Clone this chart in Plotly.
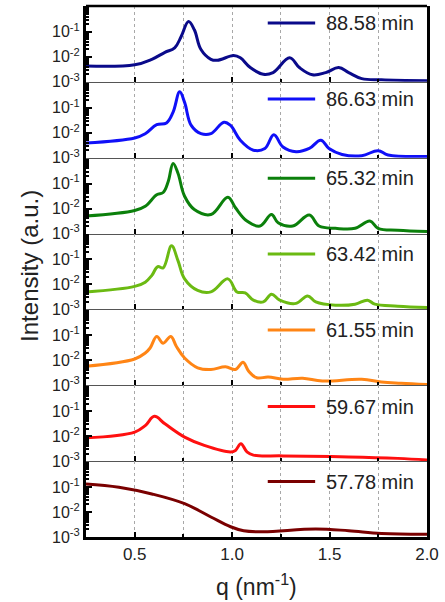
import plotly.graph_objects as go
from plotly.subplots import make_subplots

# SAXS profiles, top panel first: scattering vector q (nm^-1) and intensity (a.u.)
labels = ["88.58 min", "86.63 min", "65.32 min", "63.42 min",
          "61.55 min", "59.67 min", "57.78 min"]
colors = ["#0A0A8A", "#1010F8", "#0B800B", "#6BBA12",
          "#FF8515", "#FF1010", "#7A0000"]

q_8858 = [0.25, 0.50, 0.588, 0.655, 0.705, 0.739, 0.776, 0.806, 0.840, 0.891, 0.924,
          1.008, 1.042, 1.093, 1.160, 1.210, 1.295, 1.345, 1.412, 1.480, 1.547,
          1.598, 1.665, 1.766, 2.0]
i_8858 = [0.00427, 0.00479, 0.00794, 0.0151, 0.0229, 0.0661, 0.257, 0.120, 0.0195,
          0.00794, 0.00724, 0.0112, 0.00912, 0.00372, 0.00200, 0.00234, 0.00912,
          0.00372, 0.00191, 0.00234, 0.00372, 0.00234, 0.00135, 0.00120, 0.00110]

q_8663 = [0.25, 0.50, 0.554, 0.613, 0.663, 0.697, 0.731, 0.756, 0.790, 0.840, 0.891,
          0.958, 0.992, 1.042, 1.109, 1.168, 1.214, 1.261, 1.328, 1.396, 1.455,
          1.497, 1.564, 1.665, 1.749, 1.800, 2.0]
i_8663 = [0.00389, 0.00617, 0.00912, 0.0209, 0.0245, 0.0661, 0.427, 0.162, 0.0195,
          0.00912, 0.00912, 0.0263, 0.0195, 0.00501, 0.00200, 0.00234, 0.00832,
          0.00269, 0.00174, 0.00234, 0.00501, 0.00234, 0.00135, 0.00120, 0.00191,
          0.00129, 0.00112]

q_6532 = [0.25, 0.50, 0.554, 0.613, 0.646, 0.672, 0.697, 0.722, 0.756, 0.806, 0.891,
          0.978, 1.017, 1.076, 1.143, 1.202, 1.236, 1.311, 1.396, 1.446, 1.530,
          1.631, 1.707, 1.749, 1.850, 2.0]
i_6532 = [0.00501, 0.00832, 0.0123, 0.0355, 0.0437, 0.120, 0.631, 0.257, 0.0309,
          0.00912, 0.00575, 0.0282, 0.0107, 0.00316, 0.00200, 0.00575, 0.00269,
          0.00200, 0.00550, 0.00200, 0.00162, 0.00162, 0.00316, 0.00162, 0.00135,
          0.00120]

q_6342 = [0.25, 0.50, 0.554, 0.588, 0.618, 0.646, 0.689, 0.722, 0.756, 0.823, 0.891,
          0.978, 1.025, 1.067, 1.109, 1.160, 1.202, 1.244, 1.328, 1.387, 1.429,
          1.530, 1.631, 1.695, 1.732, 1.850, 2.0]
i_6342 = [0.00501, 0.00832, 0.0123, 0.0229, 0.0513, 0.0457, 0.347, 0.0891, 0.0166,
          0.00575, 0.00501, 0.0166, 0.00501, 0.00457, 0.00234, 0.00200, 0.00407,
          0.00234, 0.00174, 0.00347, 0.00200, 0.00148, 0.00162, 0.00234, 0.00162,
          0.00135, 0.00120]

q_6155 = [0.25, 0.50, 0.554, 0.579, 0.613, 0.646, 0.685, 0.714, 0.756, 0.823, 0.891,
          0.966, 1.017, 1.056, 1.084, 1.126, 1.185, 1.261, 1.362, 1.463, 1.665,
          1.766, 1.867, 2.0]
i_6155 = [0.00575, 0.0112, 0.0195, 0.0309, 0.0891, 0.0479, 0.0891, 0.0355, 0.0123,
          0.00501, 0.00427, 0.00550, 0.00427, 0.00832, 0.00372, 0.00200, 0.00214,
          0.00174, 0.00191, 0.00148, 0.00174, 0.00135, 0.00120, 0.00107]

q_5967 = [0.25, 0.50, 0.554, 0.601, 0.655, 0.756, 0.857, 0.992, 1.017, 1.045, 1.076,
          1.109, 1.261, 1.598, 1.850, 2.0]
i_5967 = [0.00851, 0.0145, 0.0263, 0.0617, 0.0309, 0.00912, 0.00427, 0.00234,
          0.00269, 0.00501, 0.00234, 0.00174, 0.00162, 0.00148, 0.00129, 0.00112]

q_5778 = [0.25, 0.419, 0.588, 0.756, 0.891, 0.992, 1.059, 1.160, 1.429, 1.598, 1.766, 2.0]
i_5778 = [0.132, 0.0977, 0.0525, 0.0214, 0.00631, 0.00257, 0.00178, 0.00162,
          0.00209, 0.00178, 0.00138, 0.00129]

q_sets = [q_8858, q_8663, q_6532, q_6342, q_6155, q_5967, q_5778]
i_sets = [i_8858, i_8663, i_6532, i_6342, i_6155, i_5967, i_5778]

y_ticks = [1e-3, 1e-2, 1e-1]
y_ticktext = ["10<sup>-3</sup>", "10<sup>-2</sup>", "10<sup>-1</sup>"]
y_minor = [m * 10.0 ** e for e in (-3, -2, -1) for m in range(2, 10)]

FONT = "Liberation Sans, Arial, sans-serif"
n = len(labels)

fig = make_subplots(rows=n, cols=1, shared_xaxes=True, vertical_spacing=0)

for k in range(n):
    fig.add_trace(
        go.Scatter(x=q_sets[k], y=i_sets[k], mode="lines", name=labels[k],
                   line=dict(color=colors[k], width=3, shape="spline", smoothing=1.1),
                   showlegend=False),
        row=k + 1, col=1)

grid_col = "#a8a8a8"
for k in range(n):
    last = k == n - 1
    fig.update_xaxes(
        range=[0.25, 2.0], tick0=0, dtick=0.5, tickformat=".1f",
        showgrid=True, gridcolor=grid_col, griddash="dot", gridwidth=1,
        ticks="inside", ticklen=5, tickwidth=1.5, tickcolor="black",
        minor=dict(dtick=0.25, tick0=0, showgrid=True, gridcolor=grid_col,
                   griddash="dot", gridwidth=1, ticks="inside", ticklen=3,
                   tickcolor="black"),
        showline=True, linecolor="black" if last else "#555555",
        linewidth=3 if last else 1, zeroline=False,
        showticklabels=last,
        tickfont=dict(family=FONT, size=17, color="#222222"),
        row=k + 1, col=1)
    fig.update_yaxes(
        type="log", range=[-3, 0.03],
        tickmode="array", tickvals=y_ticks, ticktext=y_ticktext,
        ticks="inside", ticklen=6, tickwidth=1.5, tickcolor="black",
        minor=dict(tickmode="array", tickvals=y_minor, ticks="inside",
                   ticklen=3, tickcolor="black", showgrid=False),
        showgrid=False, zeroline=False,
        showline=True, linecolor="black", linewidth=3, mirror=True,
        tickfont=dict(family=FONT, size=16, color="#222222"),
        row=k + 1, col=1)

# legend entry (line sample + label) in the upper right of every panel
legend_drop = [0.225, 0.225, 0.27, 0.27, 0.27, 0.28, 0.27]
for k in range(n):
    sfx = "" if k == 0 else str(k + 1)
    yd = 1 - legend_drop[k]
    fig.add_shape(type="line", xref=f"x{sfx} domain", yref=f"y{sfx} domain",
                  x0=0.533, x1=0.672, y0=yd, y1=yd,
                  line=dict(color=colors[k], width=3))
    fig.add_annotation(text=labels[k], xref=f"x{sfx} domain", yref=f"y{sfx} domain",
                       x=0.697, y=yd, xanchor="left", yanchor="middle",
                       showarrow=False,
                       font=dict(family=FONT, size=20, color="#222222"))

# top edge of the frame
fig.add_shape(type="line", xref="paper", yref="paper", x0=0, x1=1, y0=1, y1=1,
              line=dict(color="black", width=2.5))

fig.add_annotation(text="Intensity (a.u.)", xref="paper", yref="paper",
                   x=-0.168, y=0.51, textangle=-90, showarrow=False,
                   xanchor="center", yanchor="middle",
                   font=dict(family=FONT, size=24, color="#222222"))
fig.add_annotation(text="q (nm<sup>-1</sup>)", xref="paper", yref="paper",
                   x=0.5, y=-0.09, showarrow=False,
                   xanchor="center", yanchor="middle",
                   font=dict(family=FONT, size=23, color="#222222"))

fig.update_layout(
    width=445, height=602,
    margin=dict(l=86, r=12, t=6, b=65),
    paper_bgcolor="white", plot_bgcolor="white",
    font=dict(family=FONT, color="#222222"),
)

fig.write_html("out.html")
